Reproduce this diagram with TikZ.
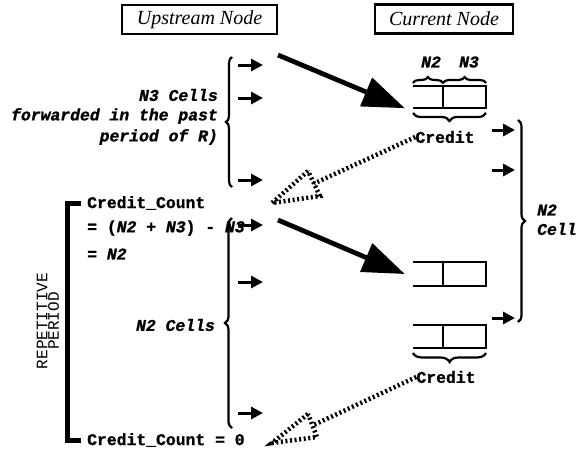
\documentclass[tikz,border=0pt]{standalone}
\usepackage{fontspec}
\setmainfont{Liberation Serif}
\newfontfamily\cour[BoldFeatures={FakeBold=1.2},BoldItalicFeatures={FakeBold=1.2}]{Liberation Mono}
\usetikzlibrary{arrows.meta,decorations.pathreplacing,calc}
\begin{document}
\begin{tikzpicture}[x=1pt,y=-1pt,
  title/.style={draw,line width=2.2pt,font=\fontsize{20}{22}\selectfont\itshape,inner sep=0pt,minimum height=29pt},
  lbl/.style={font=\fontsize{16.4}{20}\selectfont\cour\bfseries\itshape,inner sep=0pt},
  mono/.style={font=\fontsize{16.4}{20}\selectfont\cour\bfseries,inner sep=0pt},
  smallarrow/.style={line width=3pt,-{Triangle[length=12pt,width=12pt]}},
  bigarrow/.style={line width=4.8pt,-{Triangle[length=42pt,width=30pt]}},
  brc/.style={decorate,decoration={brace,amplitude=#1},line width=2.2pt},
  bufline/.style={line width=2.2pt},
  bufnode/.style={inner sep=0pt,minimum width=73pt},
  dots/.style={line width=4.5pt,dash pattern=on 2pt off 2.6pt},
]
\useasboundingbox (0,0) rectangle (581,451);

% titles
\node[title,minimum width=155pt] (up) at (199.5,19.5) {Upstream Node};
\node[title,minimum width=138pt] (cur) at (444,19) {Current Node};

% buffers
\node[bufnode,minimum height=22pt] (b1) at (449.5,97) {};
\node[bufnode,minimum height=24pt] (b2) at (449.5,274) {};
\node[bufnode,minimum height=23pt] (b3) at (449.5,336.5) {};
\foreach \b in {b1,b2,b3}{
  \draw[bufline] (\b.north west) -- (\b.north east) -- (\b.south east) -- (\b.south west);
  \draw[bufline] ($(\b.north west)+(30,0)$) -- ($(\b.south west)+(30,0)$);
}

% braces over/under buffer 1
\draw[brc=6] (b1.north west |- 0,83) -- (443,83);
\draw[brc=6] (443,83) -- (b1.north east |- 0,83);
\node[lbl] (n2top) at (431,62) {N2};
\node[lbl] (n3top) at (469,62) {N3};
\draw[brc=8] (486,113) -- (413,113);
\node[mono] (cr1) at (445,137) {Credit};

% brace under buffer 3
\draw[brc=9] (486,353) -- (413,353);
\node[mono] (cr2) at (446,377) {Credit};

% right brace
\draw[brc=7] (518,120) -- (518,322);
\node[lbl,anchor=west] (n2r) at (537,210) {N2};
\node[lbl,anchor=west] (cellr) at (537,229) {Cell};
\foreach \y in {130,170,318} \draw[smallarrow] (492,\y) -- (515,\y);

% left braces and arrows
\draw[brc=6] (232,187) -- (232,57);
\draw[brc=7] (232,428) -- (232,218);
\foreach \y in {65,98,180,225,282,413} \draw[smallarrow] (238,\y) -- (263,\y);

\node[lbl,anchor=east] (t1) at (218,95) {N3 Cells};
\node[lbl,anchor=east] (t2) at (218,116) {forwarded in the past};
\node[lbl,anchor=east] (t3) at (218,137) {period of R)};
\node[lbl,anchor=east] (t4) at (215,325) {N2 Cells};

% credit count texts
\node[mono,anchor=west] (cc1) at (87,203) {Credit\_Count};
\node[mono,anchor=west] (cc2) at (87,228) {= (\textit{N2} + \textit{N3}) - \textit{N3}};
\node[mono,anchor=west] (cc3) at (87,254) {= \textit{N2}};
\node[mono,anchor=west] (cc4) at (87,440) {Credit\_Count = 0};

% repetitive period bracket
\draw[line width=5pt] (81,203) -- (67,203) -- (67,440) -- (81,440);
\node[rotate=90,font=\fontsize{16}{11.5}\selectfont\cour,align=center,inner sep=0pt] (rp) at (48,321) {REPETITIVE\\PERIOD};

% big arrows
\coordinate (s1) at (278,55);
\coordinate (s2) at (278,220);
\draw[bigarrow] (s1) -- ($(b1.south west)+(-8,0)$);
\draw[bigarrow] (s2) -- ($(b2.west)+(-8,0)$);

% dotted hollow arrows
\coordinate (h1t) at (272,203);
\coordinate (h1l) at (308,171);
\coordinate (h1r) at (320,196);
\draw[dots] (cr1.west) -- ($(h1l)!0.5!(h1r)$);
\draw[dots] (h1l) -- (h1t) -- (h1r) -- cycle;

\coordinate (h2t) at (272,443);
\coordinate (h2l) at (308,414);
\coordinate (h2r) at (317,437);
\draw[dots] (cr2.west) -- ($(h2l)!0.5!(h2r)$);
\draw[dots] (h2l) -- (h2t) -- (h2r) -- cycle;
\end{tikzpicture}
\end{document}
